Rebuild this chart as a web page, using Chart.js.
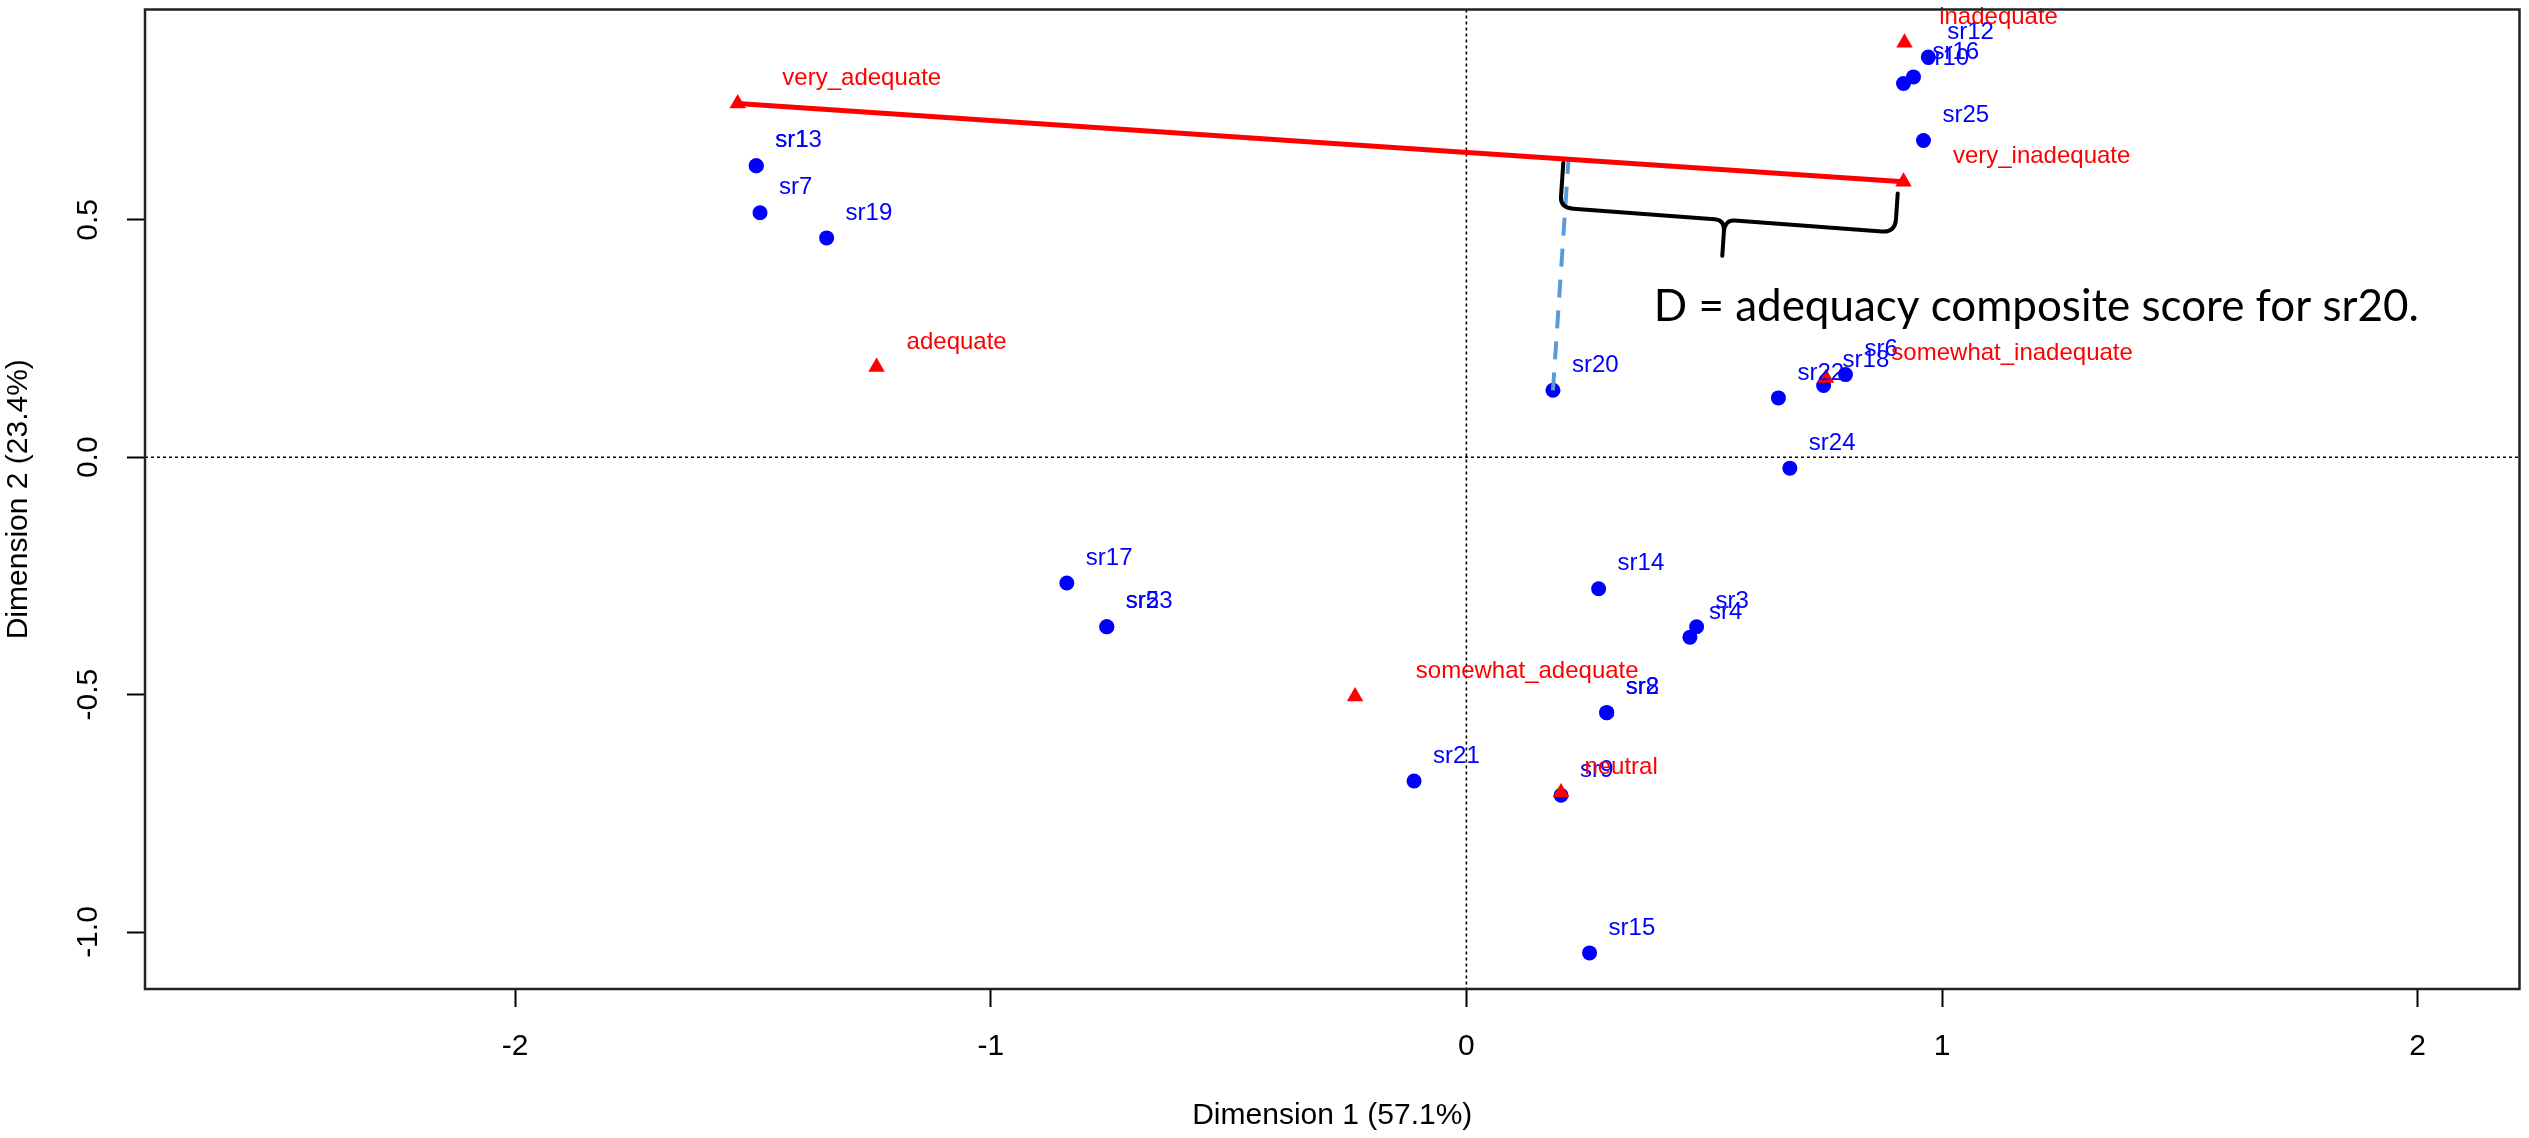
<!DOCTYPE html>
<html>
<head>
<meta charset="utf-8">
<title>CA biplot - adequacy composite score</title>
<script src="https://cdn.jsdelivr.net/npm/chart.js@4.4.1/dist/chart.umd.min.js"></script>
<style>
  html, body { margin: 0; padding: 0; background: #ffffff; }
  #wrap { width: 2529px; height: 1138px; }
</style>
</head>
<body>
<div id="wrap"><canvas id="caPlot" width="2529" height="1138"></canvas></div>
<script>
// Row points (respondents) - coordinates
const rowLabels = ['sr1', 'sr2', 'sr3', 'sr4', 'sr5', 'sr6', 'sr7', 'sr8', 'sr9', 'sr10', 'sr12', 'sr13',
                   'sr14', 'sr15', 'sr16', 'sr17', 'sr18', 'sr19', 'sr20', 'sr21', 'sr22', 'sr23', 'sr24', 'sr25'];
const rowDim1 = [-1.493, 0.295, 0.484, 0.470, -0.756, 0.797, -1.485, 0.295, 0.199, 0.919, 0.971, -1.493,
                 0.278, 0.259, 0.940, -0.840, 0.751, -1.345, 0.182, -0.110, 0.656, -0.756, 0.680, 0.961];
const rowDim2 = [0.614, -0.538, -0.357, -0.379, -0.357, 0.174, 0.515, -0.538, -0.712, 0.787, 0.843, 0.614,
                 -0.277, -1.044, 0.801, -0.265, 0.151, 0.462, 0.141, -0.682, 0.125, -0.357, -0.023, 0.667];

// Column points (rating categories)
const colLabels = ['very_adequate', 'adequate', 'somewhat_adequate', 'neutral',
                   'somewhat_inadequate', 'inadequate', 'very_inadequate'];
const colDim1 = [-1.532, -1.240, -0.234, 0.199, 0.756, 0.921, 0.919];
const colDim2 = [0.745, 0.190, -0.504, -0.706, 0.167, 0.873, 0.580];

// Axes
const xTicks = [-2, -1, 0, 1, 2];
const xTickLabels = ['-2', '-1', '0', '1', '2'];
const yTicks = [-1, -0.5, 0, 0.5];
const yTickLabels = ['-1.0', '-0.5', '0.0', '0.5'];
const xTitle = 'Dimension 1 (57.1%)';
const yTitle = 'Dimension 2 (23.4%)';

// Annotation: the adequacy axis and the respondent projected on it
const axisFrom = 'very_adequate';
const axisTo = 'very_inadequate';
const scoredRow = 'sr20';
const noteText = 'D = adequacy composite score for sr20.';

const ROW_COLOR = '#0000FF';
const COL_COLOR = '#FF0000';
const LABEL_FONT = '24px "Liberation Sans", Arial, sans-serif';

Chart.defaults.font.family = '"Liberation Sans", Arial, sans-serif';

function pt(i, xs, ys) { return { x: xs[i], y: ys[i] }; }

// perpendicular foot of point p on the line a-b (data units, equal aspect)
function footOnLine(p, a, b) {
    const dx = b.x - a.x, dy = b.y - a.y;
    const t = ((p.x - a.x) * dx + (p.y - a.y) * dy) / (dx * dx + dy * dy);
    return { x: a.x + t * dx, y: a.y + t * dy };
}

// keep the plot region exactly where it is set, no label overhang padding
function noOverhang(s) {
    s.paddingTop = 0; s.paddingBottom = 0;
    s.paddingLeft = 0; s.paddingRight = 0;
}

const rowPoints = rowLabels.map((l, i) => pt(i, rowDim1, rowDim2));
const colPoints = colLabels.map((l, i) => pt(i, colDim1, colDim2));
const pA = colPoints[colLabels.indexOf(axisFrom)];
const pB = colPoints[colLabels.indexOf(axisTo)];
const pS = rowPoints[rowLabels.indexOf(scoredRow)];
const pFoot = footOnLine(pS, pA, pB);

const caPlugin = {
    id: 'caExtras',
    beforeDatasetsDraw(chart) {
        // dotted reference lines through the origin
        const { ctx, chartArea: a, scales: { x, y } } = chart;
        const x0 = x.getPixelForValue(0);
        const y0 = y.getPixelForValue(0);
        ctx.save();
        ctx.strokeStyle = '#000';
        ctx.lineWidth = 1.6;
        ctx.setLineDash([3, 3]);
        ctx.beginPath();
        ctx.moveTo(x0, a.top); ctx.lineTo(x0, a.bottom);
        ctx.moveTo(a.left, y0); ctx.lineTo(a.right, y0);
        ctx.stroke();
        ctx.restore();
    },
    afterDatasetsDraw(chart) {
        const { ctx, chartArea: a, scales: { x, y } } = chart;
        ctx.save();
        ctx.font = LABEL_FONT;
        ctx.textAlign = 'left';
        ctx.textBaseline = 'middle';
        // row labels
        ctx.fillStyle = ROW_COLOR;
        rowPoints.forEach((p, i) => {
            ctx.fillText(rowLabels[i], x.getPixelForValue(p.x) + 19, y.getPixelForValue(p.y) - 25);
        });
        // column labels
        ctx.fillStyle = COL_COLOR;
        colPoints.forEach((p, i) => {
            const w = ctx.measureText(colLabels[i]).width;
            ctx.fillText(colLabels[i], x.getPixelForValue(p.x) + 0.25 * w + 5, y.getPixelForValue(p.y) - 25);
        });
        // plot box
        ctx.strokeStyle = '#222';
        ctx.lineWidth = 2.5;
        ctx.strokeRect(a.left, a.top, a.right - a.left, a.bottom - a.top);
        ctx.restore();
    },
    afterDraw(chart) {
        const { ctx, scales: { x, y } } = chart;
        // curly brace between the projected point and very_inadequate
        const f = { x: x.getPixelForValue(pFoot.x), y: y.getPixelForValue(pFoot.y) };
        const b = { x: x.getPixelForValue(pB.x), y: y.getPixelForValue(pB.y) };
        const len = Math.hypot(b.x - f.x, b.y - f.y);
        const u = { x: (b.x - f.x) / len, y: (b.y - f.y) / len };
        const n = { x: -u.y, y: u.x };
        const P = (s, t) => [f.x + u.x * s + n.x * t, f.y + u.y * s + n.y * t];
        const mid = len / 2 - 8;
        ctx.save();
        ctx.strokeStyle = '#000';
        ctx.lineWidth = 4;
        ctx.lineJoin = 'round';
        ctx.lineCap = 'round';
        ctx.beginPath();
        ctx.moveTo(...P(-5, 4));
        ctx.lineTo(...P(-5, 38));
        ctx.quadraticCurveTo(...P(-5, 49), ...P(8, 49));
        ctx.lineTo(...P(mid - 10, 50));
        ctx.quadraticCurveTo(...P(mid, 50), ...P(mid, 62));
        ctx.lineTo(...P(mid, 86));
        ctx.moveTo(...P(mid, 62));
        ctx.quadraticCurveTo(...P(mid, 50), ...P(mid + 10, 50));
        ctx.lineTo(...P(len - 18, 51));
        ctx.quadraticCurveTo(...P(len - 5, 51), ...P(len - 5, 38));
        ctx.lineTo(...P(len - 5, 12));
        ctx.stroke();

        // explanatory note
        ctx.fillStyle = '#000';
        ctx.font = '44px Lato, "Open Sans", sans-serif';
        ctx.textAlign = 'left';
        ctx.textBaseline = 'alphabetic';
        const w = ctx.measureText(noteText).width;
        ctx.translate(x.getPixelForValue(0.394), y.getPixelForValue(0.286));
        ctx.scale(765 / w, 1);
        ctx.fillText(noteText, 0, 0);
        ctx.restore();
    }
};

const axisFont = { family: '"Liberation Sans", Arial, sans-serif', size: 30 };

new Chart(document.getElementById('caPlot'), {
    type: 'scatter',
    data: {
        datasets: [
            {
                label: 'adequacy axis',
                data: [pA, pB],
                showLine: true,
                borderColor: COL_COLOR,
                borderWidth: 5,
                pointRadius: 0,
                order: 0
            },
            {
                label: 'projection',
                data: [pS, pFoot],
                showLine: true,
                borderColor: '#5B9BD5',
                borderWidth: 4,
                borderDash: [18, 13],
                pointRadius: 0,
                order: 1
            },
            {
                label: 'categories',
                data: colPoints,
                pointStyle: 'triangle',
                pointRadius: 9.5,
                backgroundColor: COL_COLOR,
                borderColor: COL_COLOR,
                borderWidth: 0,
                order: 2
            },
            {
                label: 'respondents',
                data: rowPoints,
                pointStyle: 'circle',
                pointRadius: 7.5,
                backgroundColor: ROW_COLOR,
                borderColor: ROW_COLOR,
                borderWidth: 0,
                order: 3
            }
        ]
    },
    options: {
        responsive: false,
        animation: false,
        devicePixelRatio: 1,
        layout: { padding: { left: 0, right: 3, top: 5, bottom: 0 } },
        plugins: {
            legend: { display: false },
            tooltip: { enabled: false }
        },
        scales: {
            x: {
                type: 'linear',
                min: -2.778,
                max: 2.214,
                afterBuildTicks: s => { s.ticks = xTicks.map(v => ({ value: v })); },
                afterFit: s => { s.height = 149; noOverhang(s); },
                border: { display: false },
                grid: { drawOnChartArea: false, drawTicks: true, tickLength: 18, tickColor: '#000', tickWidth: 2 },
                ticks: {
                    autoSkip: false,
                    maxRotation: 0,
                    padding: 22,
                    color: '#000',
                    font: axisFont,
                    callback: (v, i) => xTickLabels[i]
                },
                title: { display: true, text: xTitle, color: '#000', font: axisFont, padding: { top: 0, bottom: 4 } }
            },
            y: {
                type: 'linear',
                min: -1.12,
                max: 0.943,
                afterBuildTicks: s => { s.ticks = yTicks.map(v => ({ value: v })); },
                afterFit: s => { s.width = 145; noOverhang(s); },
                border: { display: false },
                grid: { drawOnChartArea: false, drawTicks: true, tickLength: 18, tickColor: '#000', tickWidth: 2 },
                ticks: {
                    autoSkip: false,
                    minRotation: 90,
                    maxRotation: 90,
                    crossAlign: 'center',
                    padding: 12,
                    color: '#000',
                    font: axisFont,
                    callback: (v, i) => yTickLabels[i]
                },
                title: { display: true, text: yTitle, color: '#000', font: axisFont, padding: { top: 1, bottom: 0 } }
            }
        }
    },
    plugins: [caPlugin]
});
</script>
</body>
</html>
